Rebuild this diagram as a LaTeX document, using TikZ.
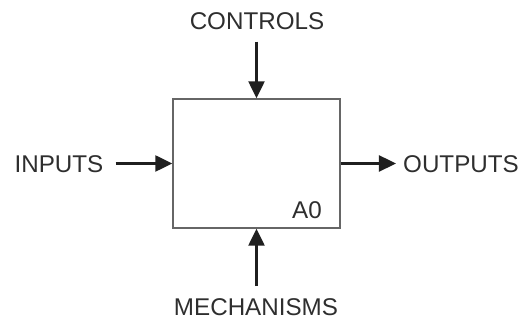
\documentclass[tikz,border=0pt]{standalone}
\usepackage{fontspec}
\setmainfont{Liberation Sans}
\usetikzlibrary{arrows.meta}
\begin{document}
\begin{tikzpicture}[x=1pt,y=1pt,
  lbl/.style={inner sep=0pt, text=black!82, font=\fontsize{24.2}{28}\selectfont},
  arr/.style={draw=black!88, line width=2.4pt, -{Triangle[length=17pt,width=16pt]}},
  actbox/.style={draw=black!60, line width=1.4pt, fill=white, minimum width=167pt, minimum height=129pt, inner sep=0pt}]
\useasboundingbox (0,0) rectangle (527,320);
\node[actbox] (box) at (256.5,156.5) {};
\node[lbl, anchor=base] (ctrl) at (257,290.7) {CONTROLS};
\node[lbl, anchor=base] (mech) at (256,4.2) {MECHANISMS};
\node[lbl, anchor=base] (in) at (59,147.3) {INPUTS};
\node[lbl, anchor=base] (out) at (461,147.3) {OUTPUTS};
\node[lbl, anchor=base east] (a0) at (322,101.7) {A0};
\draw[arr, shorten <=12pt] (box.north |- ctrl.south) -- (box.north);
\draw[arr, shorten <=12.5pt] (box.south |- mech.north) -- (box.south);
\draw[arr, shorten <=12pt] (in.east |- box.west) -- (box.west);
\draw[arr, shorten >=7pt] (box.east) -- (out.west |- box.east);
\end{tikzpicture}
\end{document}
